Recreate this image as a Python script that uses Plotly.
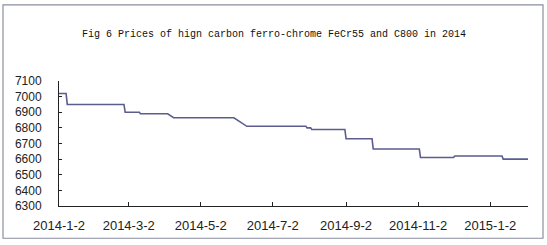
import plotly.graph_objects as go

# Data - daily price path, consecutive dates mark step changes
dates = ["2014-01-02", "2014-01-08", "2014-01-09", "2014-02-26", "2014-02-27", "2014-03-11",
         "2014-03-12", "2014-04-04", "2014-04-09", "2014-05-30", "2014-06-03", "2014-06-10",
         "2014-07-30", "2014-07-31", "2014-08-03", "2014-08-04", "2014-09-01", "2014-09-02",
         "2014-09-24", "2014-09-25", "2014-11-03", "2014-11-04", "2014-12-02", "2014-12-03",
         "2015-01-12", "2015-01-13", "2015-02-03"]
prices = [7020, 7020, 6950, 6950, 6900, 6900,
          6890, 6890, 6865, 6865, 6845, 6810,
          6810, 6800, 6800, 6790, 6790, 6730,
          6730, 6665, 6665, 6610, 6610, 6620,
          6620, 6600, 6600]

tick_vals = ["2014-01-02", "2014-03-02", "2014-05-02", "2014-07-02", "2014-09-02", "2014-11-02", "2015-01-02"]
tick_text = ["2014-1-2", "2014-3-2", "2014-5-2", "2014-7-2", "2014-9-2", "2014-11-2", "2015-1-2"]
y_ticks = [6300, 6400, 6500, 6600, 6700, 6800, 6900, 7000, 7100]
title = "Fig 6 Prices of hign carbon ferro-chrome FeCr55 and C800 in 2014"

W, H = 547, 245
L, R, T, B = 59, 528, 81, 209

fig = go.Figure(go.Scatter(
    x=dates, y=prices, mode="lines",
    line=dict(color="#5c5c8e", width=1.6), showlegend=False, hoverinfo="skip"))

def px2paper_x(px):
    return (px - L) / (R - L)

def px2paper_y(py):
    return (B - py) / (B - T)

fig.update_layout(
    width=W, height=H,
    margin=dict(l=L, r=W - R, t=T, b=H - B),
    paper_bgcolor="white", plot_bgcolor="white",
    xaxis=dict(type="date", range=["2014-01-02", "2015-02-03"],
               tickvals=tick_vals, ticktext=tick_text,
               showgrid=False, zeroline=False, showline=True, linecolor="#222", linewidth=1,
               ticks="inside", ticklen=4, tickcolor="#222",
               tickfont=dict(family="Liberation Sans", size=13, color="#222"),
               ticklabelstandoff=7),
    yaxis=dict(range=[6300, 7100], tickvals=y_ticks,
               showgrid=False, zeroline=False, showline=True, linecolor="#222", linewidth=1,
               ticks="inside", ticklen=3, tickcolor="#222",
               tickfont=dict(family="Liberation Sans", size=12, color="#222"),
               ticklabelstandoff=14),
    shapes=[dict(type="rect", xref="paper", yref="paper",
                 x0=px2paper_x(3), x1=px2paper_x(543), y0=px2paper_y(242), y1=px2paper_y(3),
                 line=dict(color="#8a8e9e", width=1.2), fillcolor="rgba(0,0,0,0)", layer="below")],
    annotations=[dict(text=title, xref="paper", yref="paper",
                      x=px2paper_x(274), y=px2paper_y(33), xanchor="center", yanchor="middle",
                      showarrow=False, font=dict(family="Liberation Mono", size=10, color="#111"))],
)

fig.write_html("out.html")
